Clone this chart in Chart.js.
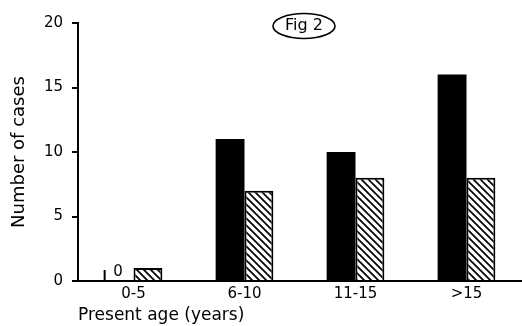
<!DOCTYPE html>
<html lang="en">
<head>
    <meta charset="UTF-8">
    <title>Fig 2</title>
    <script src="https://cdn.jsdelivr.net/npm/chart.js"></script>
    <style>
        body { margin: 0; background: #fff; overflow: hidden; }
    </style>
</head>
<body>
    <canvas id="chart" width="522" height="326"></canvas>
    <script>
        const ageGroups = ['0-5', '6-10', '11-15', '>15'];
        const solidCases = [0, 11, 10, 16];
        const hatchedCases = [1, 7, 8, 8];
        const yTicks = [0, 5, 10, 15, 20];

        // diagonal hatch for the second series
        function makeHatch(ctx) {
            const c = document.createElement('canvas');
            c.width = 7; c.height = 7;
            const g = c.getContext('2d');
            g.fillStyle = '#fff';
            g.fillRect(0, 0, 7, 7);
            g.strokeStyle = '#000';
            g.lineWidth = 1.7;
            g.beginPath();
            g.moveTo(-1, -1); g.lineTo(8, 8);
            g.moveTo(-1, 6); g.lineTo(1, 8);
            g.moveTo(6, -1); g.lineTo(8, 1);
            g.stroke();
            return ctx.createPattern(c, 'repeat');
        }

        Chart.defaults.font.family = 'DejaVu Sans';
        Chart.defaults.color = '#000';

        const extras = {
            id: 'extras',
            afterDatasetsDraw(chart) {
                const ctx = chart.ctx;
                const y0 = chart.scales.y.getPixelForValue(0);
                const bar = chart.getDatasetMeta(0).data[0];
                ctx.save();
                // zero marker for the empty solid bar
                ctx.font = '15px "DejaVu Sans"';
                ctx.textAlign = 'center';
                ctx.textBaseline = 'alphabetic';
                ctx.fillStyle = '#000';
                ctx.fillText('0', bar.x - 1, y0 - 5);
                ctx.strokeStyle = '#000';
                ctx.lineWidth = 2;
                ctx.beginPath();
                ctx.moveTo(bar.x - bar.width / 2, y0);
                ctx.lineTo(bar.x - bar.width / 2, y0 - 11);
                ctx.stroke();
                // figure tag
                const cx = (chart.chartArea.left + chart.chartArea.right) / 2 + 4;
                ctx.lineWidth = 1.6;
                ctx.beginPath();
                ctx.ellipse(cx, 26, 31, 12.5, 0, 0, Math.PI * 2);
                ctx.stroke();
                ctx.font = '16px "DejaVu Sans"';
                ctx.textBaseline = 'middle';
                ctx.fillText('Fig 2', cx, 26);
                ctx.restore();
            }
        };

        const ctx = document.getElementById('chart').getContext('2d');
        new Chart(ctx, {
            type: 'bar',
            data: {
                labels: ageGroups,
                datasets: [
                    {
                        data: solidCases,
                        backgroundColor: '#000',
                        borderWidth: 0
                    },
                    {
                        data: hatchedCases,
                        backgroundColor: makeHatch(ctx),
                        borderColor: '#000',
                        borderWidth: 2
                    }
                ]
            },
            options: {
                responsive: false,
                animation: false,
                layout: { padding: { top: 23, right: 0, bottom: 0, left: 0 } },
                datasets: { bar: { categoryPercentage: 0.52, barPercentage: 1 } },
                plugins: { legend: { display: false }, tooltip: { enabled: false } },
                scales: {
                    x: {
                        afterFit: (s) => { s.height = 45; },
                        grid: { display: false, drawTicks: false },
                        border: { display: true, color: '#000', width: 2 },
                        ticks: { font: { size: 15 }, padding: 4 },
                        title: {
                            display: true,
                            text: 'Present age (years)',
                            align: 'start',
                            font: { size: 17 },
                            padding: { top: 0, bottom: 0 }
                        }
                    },
                    y: {
                        min: 0,
                        max: 20,
                        afterFit: (s) => { s.width = 78; },
                        afterBuildTicks: (s) => { s.ticks = yTicks.map(v => ({ value: v })); },
                        grid: { drawOnChartArea: false, drawTicks: true, tickLength: 6, color: '#000', lineWidth: 2 },
                        border: { display: true, color: '#000', width: 2 },
                        ticks: { font: { size: 15 }, padding: 9 },
                        title: {
                            display: true,
                            text: 'Number of cases',
                            font: { size: 18 },
                            padding: { top: 9, bottom: 0 }
                        }
                    }
                }
            },
            plugins: [extras]
        });
    </script>
</body>
</html>
